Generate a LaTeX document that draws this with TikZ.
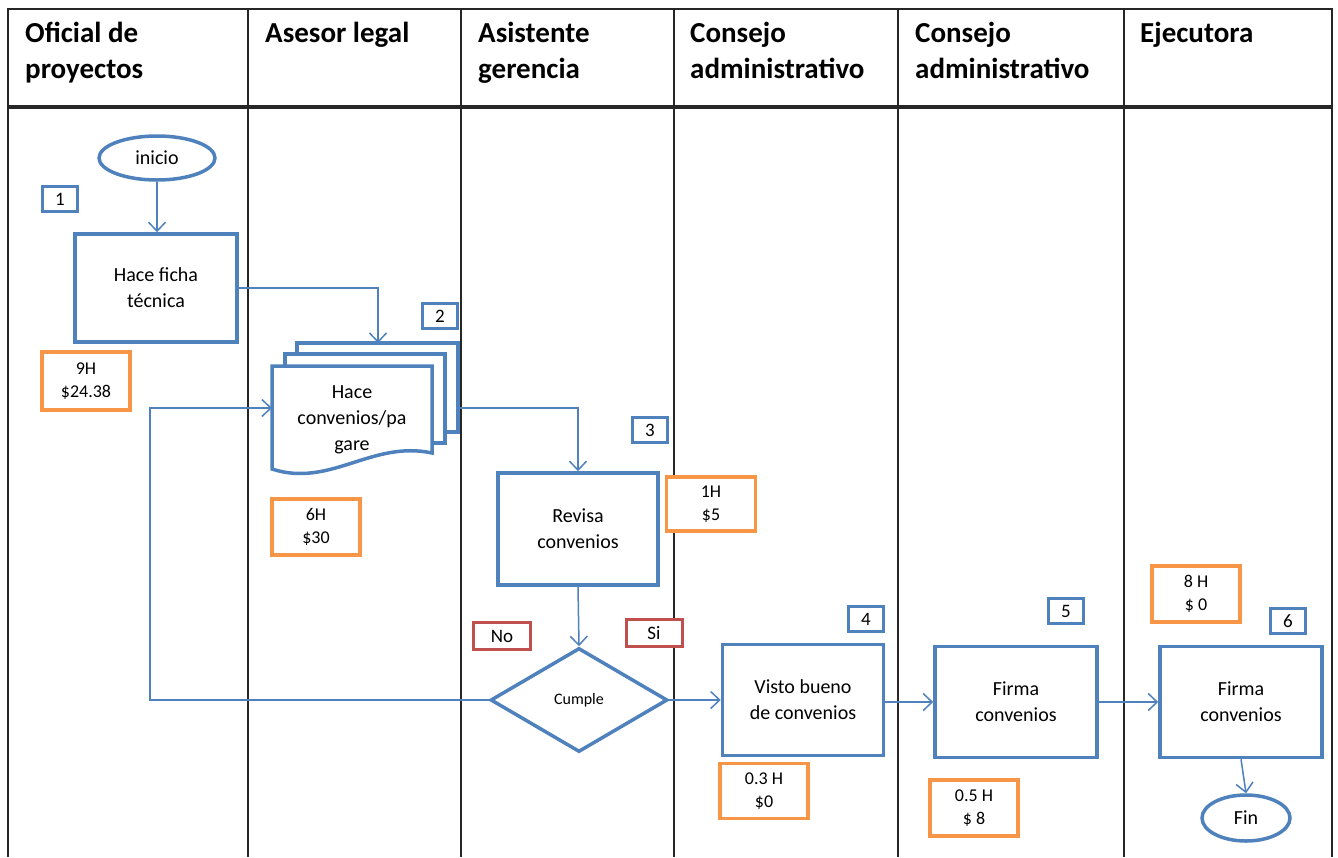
\documentclass[tikz,border=0pt]{standalone}
\usepackage{fontspec}
\setmainfont{Carlito}
\usetikzlibrary{shapes.geometric,arrows.meta,calc}
\definecolor{flowblue}{HTML}{4F81BD}
\definecolor{costorange}{HTML}{F79646}
\definecolor{answerred}{HTML}{C0504D}
\definecolor{gridline}{HTML}{262626}

\begin{document}
\begin{tikzpicture}[x=1pt,y={(0pt,-1pt)},
  lane/.style={draw=gridline, line width=2pt},
  lanehead/.style={anchor=north west, align=left, inner sep=0pt,
    font=\fontsize{29}{36}\selectfont\bfseries},
  task/.style={draw=flowblue, line width=3.5pt, fill=white, align=center,
    minimum width=161pt, minimum height=110pt,
    font=\fontsize{20}{26}\selectfont},
  terminal/.style={ellipse, draw=flowblue, line width=3.5pt, fill=white,
    inner sep=0pt, font=\fontsize{20}{26}\selectfont},
  decision/.style={diamond, draw=flowblue, line width=3.5pt, fill=white,
    inner sep=0pt, minimum width=177pt, minimum height=104pt,
    font=\fontsize{16}{20}\selectfont},
  numtag/.style={draw=flowblue, line width=3.5pt, fill=white,
    minimum width=35pt, minimum height=25pt, inner sep=0pt,
    font=\fontsize{19}{22}\selectfont},
  cost/.style={draw=costorange, line width=3.5pt, fill=white, align=center,
    minimum width=88pt, minimum height=56pt, inner sep=0pt,
    font=\fontsize{18}{23}\selectfont},
  answer/.style={draw=answerred, line width=3pt, fill=white,
    minimum width=56pt, minimum height=27pt, inner sep=0pt,
    font=\fontsize{19}{22}\selectfont},
  page/.style={draw=flowblue, line width=3.5pt, fill=white},
  flow/.style={draw=flowblue, line width=1.5pt,
    -{Straight Barb[length=9pt,width=17pt,line width=1.5pt]}}
]
\useasboundingbox (0,0) rectangle (1338,857);

% swimlane grid
\draw[lane] (8,857) -- (8,9) -- (1332,9) -- (1332,857);
\foreach \lx in {248,461,674,898,1124}
  \draw[lane] (\lx,9) -- (\lx,857);
\draw[draw=gridline, line width=4.5pt] (8,107) -- (1332,107);

% lane titles
\node[lanehead] (h1) at (25,22) {Oficial de\\proyectos};
\node[lanehead] (h2) at (265,22) {Asesor legal};
\node[lanehead] (h3) at (478,22) {Asistente\\gerencia};
\node[lanehead] (h4) at (690,22) {Consejo\\administrativo};
\node[lanehead] (h5) at (915,22) {Consejo\\administrativo};
\node[lanehead] (h6) at (1140,22) {Ejecutora};

% multi-page document: back, middle, front (wavy bottom)
\draw[page] (297,343) rectangle (458,432);
\draw[page] (285,354) rectangle (445,443);
\draw[page] (272,366) -- (432,366) -- (432,453)
  .. controls (372,440) and (330,488) .. (272,469) -- cycle;
\node[align=center, font=\fontsize{20}{26}\selectfont] (doc) at (352,420)
  {Hace\\convenios/pa\\gare};
\coordinate (docin) at (378,343);
\coordinate (docleft) at (272,408);
\coordinate (docright) at (458,408);

% process nodes
\node[terminal, minimum width=116pt, minimum height=44pt] (inicio) at (157,158) {inicio};
\node[task, minimum width=162pt, minimum height=108pt] (ficha) at (156,288) {Hace ficha\\técnica};
\node[task, minimum width=160pt, minimum height=112pt] (revisa) at (578,529) {Revisa\\convenios};
\node[decision] (dia) at (579,700) {Cumple};
\node[task, minimum height=111pt] (visto) at (803,700) {Visto bueno\\de convenios};
\node[task, minimum width=162pt, minimum height=111pt] (firma1) at (1016,702) {Firma\\convenios};
\node[task, minimum width=162pt, minimum height=111pt] (firma2) at (1241,702) {Firma\\convenios};
\node[terminal, minimum width=88pt, minimum height=46pt] (fin) at (1246,818) {Fin};

% step numbers
\node[numtag] (t1) at (60,199) {1};
\node[numtag] (t2) at (440,316) {2};
\node[numtag] (t3) at (650,430) {3};
\node[numtag] (t4) at (866,619) {4};
\node[numtag] (t5) at (1066,611) {5};
\node[numtag] (t6) at (1288,621) {6};

% time and cost
\node[cost, minimum height=58pt] (c1) at (86,381) {9H\\\$24.38};
\node[cost] (c2) at (316,527) {6H\\\$30};
\node[cost, minimum width=89pt, minimum height=54pt] (c3) at (711,504) {1H\\\$5};
\node[cost, minimum height=55pt] (c4) at (764,791) {0.3 H\\\$0};
\node[cost] (c5) at (974,808) {0.5 H\\\$ 8};
\node[cost] (c6) at (1196,594) {8 H\\\$ 0};

% decision answers
\node[answer, minimum width=57pt] (no) at (502,636) {No};
\node[answer] (si) at (654,633) {Si};

% connectors
\coordinate (noturn) at (150,700);
\draw[flow] (inicio.south) -- (inicio.south |- ficha.north);
\draw[flow] (ficha.east) -| (docin);
\draw[flow] (docright) -| (revisa.north);
\draw[flow] (revisa.south) -- (dia.north);
\draw[flow] (dia.west) -- (noturn) |- (docleft);
\draw[flow] (dia.east) -- (visto.west);
\draw[flow] (visto.east |- firma1.west) -- (firma1.west);
\draw[flow] (firma1.east) -- (firma2.west);
\draw[flow] (firma2.south) -- (fin.north);
\end{tikzpicture}
\end{document}
